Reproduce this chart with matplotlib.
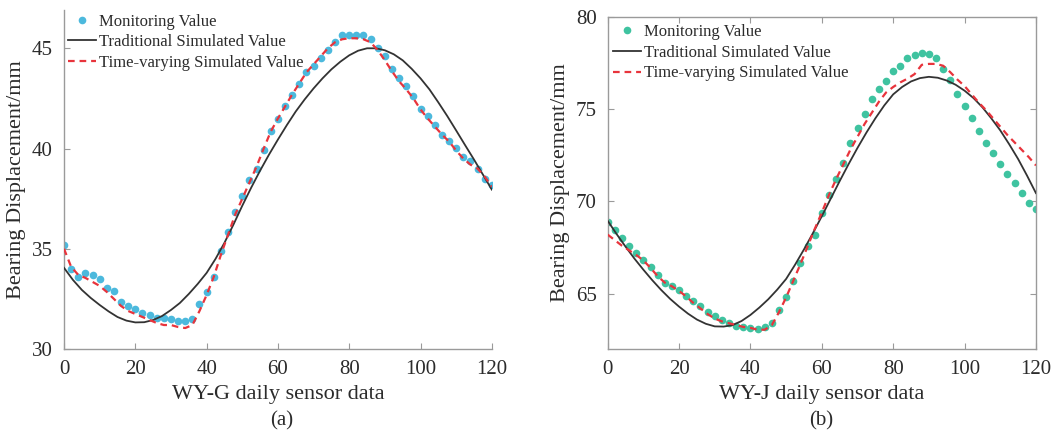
import matplotlib
matplotlib.use("Agg")
import matplotlib.pyplot as plt

plt.rcParams['font.family'] = ['Liberation Serif', 'DejaVu Serif']

# ---------------- Data: panel (a) WY-G ----------------
a_mon_x = list(range(0, 121, 2))
a_mon_y = [35.2, 34.0, 33.57, 33.8, 33.67, 33.5, 33.07, 32.9, 32.36, 32.14,
           32.0, 31.8, 31.7, 31.53, 31.53, 31.48, 31.4, 31.4, 31.48, 32.24,
           32.84, 33.6, 34.9, 35.83, 36.83, 37.62, 38.45, 39.0, 39.95, 40.9,
           41.48, 42.1, 42.66, 43.2, 43.82, 44.14, 44.53, 44.9, 45.3, 45.66,
           45.66, 45.66, 45.66, 45.47, 45.0, 44.6, 43.97, 43.5, 43.1, 42.62,
           41.98, 41.6, 41.16, 40.7, 40.4, 40.03, 39.58, 39.37, 39.0, 38.5,
           38.17]

a_trad_x = [i * 2.5 for i in range(49)]
a_trad_y = [34.05, 33.45, 32.95, 32.55, 32.2, 31.88, 31.6, 31.42, 31.33, 31.34,
            31.45, 31.65, 31.95, 32.3, 32.75, 33.25, 33.8, 34.5, 35.3, 36.2,
            37.15, 38.05, 38.9, 39.7, 40.45, 41.17, 41.85, 42.45, 43.0, 43.5,
            43.95, 44.33, 44.65, 44.88, 45.0, 45.0, 44.9, 44.7, 44.4, 43.98,
            43.5, 42.95, 42.3, 41.62, 40.9, 40.17, 39.45, 38.7, 37.95]

a_tv_x = list(range(0, 121, 2))
a_tv_y = [35.0, 34.1, 33.7, 33.55, 33.35, 33.15, 32.85, 32.5, 32.15, 31.9,
          31.75, 31.6, 31.45, 31.3, 31.2, 31.2, 31.1, 31.05, 31.2, 31.9,
          32.7, 33.6, 34.7, 35.7, 36.7, 37.5, 38.3, 39.1, 40.0, 40.85,
          41.5, 42.1, 42.7, 43.25, 43.8, 44.2, 44.6, 45.0, 45.3, 45.45,
          45.5, 45.5, 45.45, 45.3, 44.9, 44.4, 43.85, 43.35, 42.95, 42.5,
          41.95, 41.5, 41.1, 40.7, 40.35, 39.9, 39.5, 39.2, 39.0, 38.6,
          38.1]

# ---------------- Data: panel (b) WY-J ----------------
b_mon_x = list(range(0, 121, 2))
b_mon_y = [68.86, 68.46, 68.0, 67.6, 67.2, 66.84, 66.43, 66.0, 65.6, 65.4,
           65.18, 64.86, 64.59, 64.32, 64.0, 63.78, 63.6, 63.41, 63.27, 63.2,
           63.14, 63.1, 63.2, 63.41, 64.13, 64.8, 65.7, 66.66, 67.56, 68.19,
           69.36, 70.36, 71.2, 72.07, 73.15, 73.96, 74.72, 75.55, 76.07, 76.52,
           77.06, 77.35, 77.75, 77.93, 78.02, 77.96, 77.75, 77.15, 76.57, 75.8,
           75.17, 74.5, 73.82, 73.19, 72.61, 72.01, 71.47, 70.99, 70.48, 69.94,
           69.58]

b_trad_x = [i * 2.5 for i in range(49)]
b_trad_y = [68.95, 68.23, 67.55, 66.9, 66.3, 65.73, 65.2, 64.72, 64.3, 63.92,
            63.6, 63.37, 63.23, 63.22, 63.3, 63.52, 63.85, 64.25, 64.7, 65.22,
            65.8, 66.57, 67.4, 68.28, 69.2, 70.15, 71.1, 72.02, 72.9, 73.73,
            74.5, 75.2, 75.8, 76.2, 76.5, 76.68, 76.75, 76.7, 76.55, 76.32,
            76.0, 75.6, 75.1, 74.5, 73.85, 73.1, 72.3, 71.4, 70.45]

b_tv_x = list(range(0, 121, 2))
b_tv_y = [68.2, 67.9, 67.6, 67.35, 67.1, 66.8, 66.4, 65.95, 65.6, 65.4,
          65.15, 64.85, 64.5, 64.2, 63.9, 63.65, 63.5, 63.4, 63.3, 63.2,
          63.15, 63.05, 63.05, 63.3, 64.0, 64.8, 65.7, 66.6, 67.55, 68.5,
          69.4, 70.35, 71.2, 72.0, 72.8, 73.5, 74.2, 74.8, 75.4, 75.9,
          76.2, 76.45, 76.65, 76.9, 77.4, 77.45, 77.45, 77.35, 77.0, 76.6,
          76.25, 75.8, 75.35, 74.95, 74.5, 74.05, 73.6, 73.2, 72.8, 72.4,
          71.95]

labels = ["Monitoring Value", "Traditional Simulated Value", "Time-varying Simulated Value"]
xticks = [0, 20, 40, 60, 80, 100, 120]
a_yticks = [30, 35, 40, 45]
b_yticks = [65, 70, 75, 80]

TXT = '#2b2b2b'
SPINE = '#9a9a9a'
RED = '#e8343c'
BLACK = '#333333'

fig = plt.figure(figsize=(10.6, 4.43), dpi=100)
axa = fig.add_axes([0.0604, 0.212, 0.4036, 0.765])
axb = fig.add_axes([0.5733, 0.212, 0.4040, 0.750])


def draw(ax, mx, my, tx, ty, vx, vy, dotc, leg_anchor):
    ax.plot(mx, my, linestyle='none', marker='o', markersize=5.5, color=dotc,
            markeredgewidth=0, label=labels[0], zorder=2)
    ax.plot(tx, ty, color=BLACK, lw=1.3, label=labels[1], zorder=3)
    ax.plot(vx, vy, color=RED, lw=1.6, dashes=(3, 2.2), label=labels[2], zorder=4)
    ax.set_xlim(0, 120)
    ax.set_xticks(xticks)
    ax.tick_params(direction='in', length=4, color=SPINE, labelsize=15,
                   labelcolor=TXT, pad=8)
    for s in ax.spines.values():
        s.set_color(SPINE)
        s.set_linewidth(1.0)
    ax.set_ylabel("Bearing Displacement/mm", fontsize=16, color=TXT, labelpad=4)
    leg = ax.legend(loc='upper left', bbox_to_anchor=leg_anchor, frameon=False,
                    fontsize=12, handlelength=1.7, handletextpad=0.15,
                    labelspacing=0.28, borderaxespad=0, borderpad=0)
    for t in leg.get_texts():
        t.set_color(TXT)


draw(axa, a_mon_x, a_mon_y, a_trad_x, a_trad_y, a_tv_x, a_tv_y, '#4cb9dd', (0.009, 0.99))
axa.set_ylim(30, 46.9)
axa.set_yticks(a_yticks)
axa.spines['top'].set_visible(False)
axa.spines['right'].set_visible(False)
axa.set_xlabel("WY-G daily sensor data", fontsize=16, color=TXT, labelpad=4)

draw(axb, b_mon_x, b_mon_y, b_trad_x, b_trad_y, b_tv_x, b_tv_y, '#3fc3a0', (0.012, 0.978))
axb.set_ylim(62, 80)
axb.set_yticks(b_yticks)
axb.tick_params(top=True, right=True)
axb.set_xlabel("WY-J daily sensor data", fontsize=16, color=TXT, labelpad=4)

fig.text(0.266, 0.05, "(a)", fontsize=15, color=TXT, ha='center', va='center')
fig.text(0.775, 0.05, "(b)", fontsize=15, color=TXT, ha='center', va='center')

fig.savefig("out.png", dpi=100)
